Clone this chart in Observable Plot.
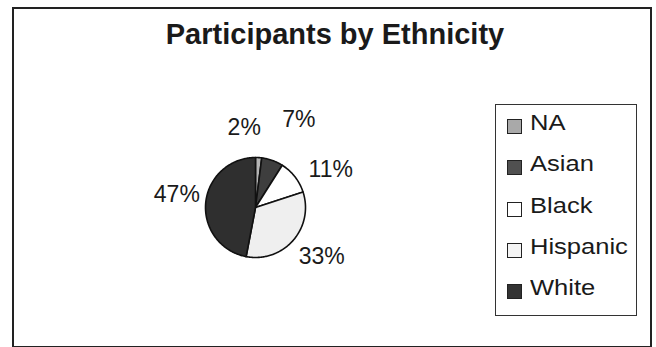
<!DOCTYPE html>
<html>
<head>
<meta charset="utf-8">
<script src="https://cdn.jsdelivr.net/npm/d3@7"></script>
<script src="https://cdn.jsdelivr.net/npm/@observablehq/plot@0.6"></script>
<style>
  html, body { margin: 0; padding: 0; background: #fff; }
  #wrap { position: relative; width: 656px; height: 347px; overflow: hidden; font-family: "Liberation Sans", Arial, sans-serif; color: #1a1a1a; }
  #frame { position: absolute; left: 12px; top: 7px; width: 636px; height: 337px; border: 2px solid #222; box-sizing: content-box; }
  #title { position: absolute; left: 0; width: 670px; top: 18px; text-align: center; font-weight: bold; font-size: 29px; }
  #legend { position: absolute; left: 495px; top: 104px; width: 142px; height: 212px; border: 1.5px solid #333; box-sizing: border-box; }
  .item { position: absolute; left: 11px; height: 26px; font-size: 22px; line-height: 26px; white-space: nowrap; }
  .sw { display: inline-block; width: 15px; height: 15px; border: 1px solid #222; box-sizing: border-box; margin-right: 8px; vertical-align: -4px; }
  .tx { display: inline-block; transform: scaleX(1.16); transform-origin: left center; }
  #chart { position: absolute; left: 0; top: 0; }
</style>
</head>
<body>
<div id="wrap">
  <div id="frame"></div>
  <div id="title">Participants by Ethnicity</div>
  <div id="chart"></div>
  <div id="legend"></div>
</div>
<script>
// Data
const categories = ["NA", "Asian", "Black", "Hispanic", "White"];
const percents = [2, 7, 11, 33, 47];
const labels = ["2%", "7%", "11%", "33%", "47%"];

// Styles
const colors = {NA: "#b4b4b4", Asian: "#3e3e3e", Black: "#ffffff", Hispanic: "#efefef", White: "#2f2f2f"};
const swatchColors = {NA: "#a9a9a9", Asian: "#505050", Black: "#ffffff", Hispanic: "#f4f4f4", White: "#333333"};
// label nudges in pixels (Excel-style placement)
const labelOffsets = {NA: [-16, -5], Asian: [18, -17], Black: [16, 8], Hispanic: [10, 0], White: [-4, -6]};
const pxPerUnit = 50;

const rows = categories.map((c, i) => ({category: c, value: percents[i], label: labels[i]}));

// angles clockwise from 12 o'clock
const arcs = d3.pie().value(d => d.value).sort(null)(rows);

const slicePts = [];
for (const a of arcs) {
  const c = a.data.category;
  slicePts.push({category: c, x: 0, y: 0});
  const steps = Math.max(2, Math.ceil((a.endAngle - a.startAngle) / (Math.PI / 180)));
  for (let k = 0; k <= steps; k++) {
    const t = a.startAngle + (a.endAngle - a.startAngle) * k / steps;
    slicePts.push({category: c, x: Math.sin(t), y: Math.cos(t)});
  }
  slicePts.push({category: c, x: 0, y: 0});
}

const labelPts = arcs.map(a => {
  const m = (a.startAngle + a.endAngle) / 2;
  const [ox, oy] = labelOffsets[a.data.category];
  return {
    category: a.data.category, label: a.data.label,
    x: 1.5 * Math.sin(m) + ox / pxPerUnit,
    y: 1.5 * Math.cos(m) - oy / pxPerUnit
  };
});

const plot = Plot.plot({
  width: 656,
  height: 347,
  margin: 0,
  x: {domain: [-1, 1], range: [255 - pxPerUnit, 255 + pxPerUnit], axis: null},
  y: {domain: [-1, 1], range: [207 + pxPerUnit, 207 - pxPerUnit], axis: null},
  marks: [
    Plot.line(slicePts, {x: "x", y: "y", z: "category", fill: d => colors[d.category], stroke: "#111", strokeWidth: 1.6, strokeLinejoin: "round", curve: "linear"}),
    Plot.text(labelPts, {
      x: "x", y: "y", text: "label",
      fontSize: 23, fill: "#1a1a1a", fontFamily: "Liberation Sans, Arial, sans-serif",
      textAnchor: "middle", lineAnchor: "middle"
    })
  ]
});
document.getElementById("chart").appendChild(plot);

const legend = document.getElementById("legend");
categories.forEach((c, i) => {
  const div = document.createElement("div");
  div.className = "item";
  div.style.top = (5 + i * 41.3) + "px";
  div.innerHTML = `<span class="sw" style="background:${swatchColors[c]}"></span><span class="tx">${c}</span>`;
  legend.appendChild(div);
});
</script>
</body>
</html>
